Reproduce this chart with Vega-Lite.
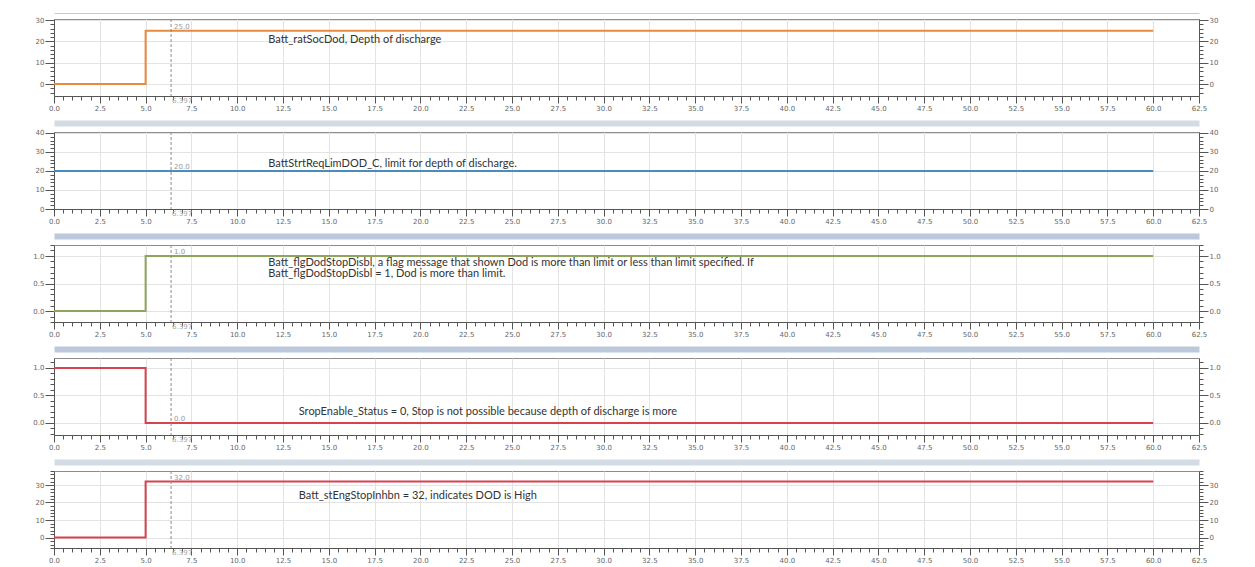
{
  "$schema": "https://vega.github.io/schema/vega-lite/v6.json",
  "background": "#ffffff",
  "padding": {"top": 12, "left": 5, "right": 5, "bottom": 5},
  "bounds": "flush",
  "spacing": 36,
  "config": {
    "view": {"stroke": "#8c8c8c", "strokeWidth": 1},
    "axis": {
      "labelFont": "DejaVu Sans",
      "labelFontSize": 7,
      "labelColor": "#666666",
      "domainColor": "#555555",
      "tickColor": "#555555",
      "gridColor": "#e3e3e3",
      "labelOverlap": false,
      "labelFlush": false,
      "labelBound": false
    },
    "text": {"font": "Lato", "fontSize": 11, "color": "#333333"}
  },
  "vconcat": [
    {
      "width": 1145,
      "height": 77,
      "resolve": {"axis": {"x": "independent", "y": "independent"}},
      "layer": [
        {
          "data": {"values": [{"t": 0, "v": 0}, {"t": 5, "v": 25}, {"t": 60, "v": 25}]},
          "mark": {"type": "line", "interpolate": "step-after", "strokeWidth": 2, "color": "#E88B3C"},
          "encoding": {
            "x": {"field": "t", "type": "quantitative", "title": null, "scale": {"domain": [0, 62.5], "nice": false, "zero": false},
              "axis": {"values": [0,0.5,1,1.5,2,2.5,3,3.5,4,4.5,5,5.5,6,6.5,7,7.5,8,8.5,9,9.5,10,10.5,11,11.5,12,12.5,13,13.5,14,14.5,15,15.5,16,16.5,17,17.5,18,18.5,19,19.5,20,20.5,21,21.5,22,22.5,23,23.5,24,24.5,25,25.5,26,26.5,27,27.5,28,28.5,29,29.5,30,30.5,31,31.5,32,32.5,33,33.5,34,34.5,35,35.5,36,36.5,37,37.5,38,38.5,39,39.5,40,40.5,41,41.5,42,42.5,43,43.5,44,44.5,45,45.5,46,46.5,47,47.5,48,48.5,49,49.5,50,50.5,51,51.5,52,52.5,53,53.5,54,54.5,55,55.5,56,56.5,57,57.5,58,58.5,59,59.5,60,60.5,61,61.5,62,62.5],
                "labelExpr": "datum.value % 2.5 === 0 ? format(datum.value, '.1f') : ''",
                "tickSize": {"condition": {"test": "datum.value % 2.5 === 0", "value": 7}, "value": 4},
                "gridOpacity": {"condition": {"test": "datum.value % 2.5 === 0", "value": 1}, "value": 0},
                "labelPadding": 1}},
            "y": {"field": "v", "type": "quantitative", "title": null, "scale": {"domain": [-5.6, 30.5], "nice": false, "zero": false},
              "axis": {"orient": "left", "values": [-4,-2,0,2,4,6,8,10,12,14,16,18,20,22,24,26,28,30],
                "labelExpr": "datum.value % 10 === 0 ? format(datum.value, 'd') : ''",
                "tickSize": {"condition": {"test": "datum.value % 10 === 0", "value": 9}, "value": 4},
                "gridOpacity": {"condition": {"test": "datum.value % 10 === 0", "value": 1}, "value": 0},
                "labelPadding": 1, "minExtent": 48, "maxExtent": 48}}
          }
        },
        {
          "data": {"values": [{"t": 6.39, "v": 25, "lab": "25.0"}]},
          "mark": {"type": "text", "align": "left", "baseline": "bottom", "dx": 3, "dy": -1, "font": "DejaVu Sans", "fontSize": 7, "color": "#999999"},
          "encoding": {
            "x": {"field": "t", "type": "quantitative", "axis": null},
            "y": {"field": "v", "type": "quantitative", "title": null,
              "axis": {"orient": "right", "grid": false, "values": [-4,-2,0,2,4,6,8,10,12,14,16,18,20,22,24,26,28,30],
                "labelExpr": "datum.value % 10 === 0 ? format(datum.value, 'd') : ''",
                "tickSize": {"condition": {"test": "datum.value % 10 === 0", "value": 9}, "value": 4},
                "labelPadding": 1}},
            "text": {"field": "lab"}
          }
        },
        {
          "data": {"values": [{"t": 6.39}]},
          "mark": {"type": "rule", "strokeDash": [3, 2], "color": "#8a8a8a", "strokeWidth": 1},
          "encoding": {"x": {"field": "t", "type": "quantitative", "title": null,
            "axis": {"orient": "top", "labels": false, "ticks": false, "grid": false, "domain": true, "domainColor": "#c9c9c9", "domainWidth": 1, "offset": 6}}}
        },
        {
          "data": {"values": [{"t": 6.39, "lab": "6.397"}]},
          "mark": {"type": "text", "align": "left", "baseline": "top", "dx": 1, "dy": 1, "font": "DejaVu Sans", "fontSize": 7, "color": "#aaaaaa"},
          "encoding": {"x": {"field": "t", "type": "quantitative", "axis": null}, "y": {"datum": -5.6, "type": "quantitative", "axis": null}, "text": {"field": "lab"}}
        },
        {
          "data": {"values": [{"t": 11.7, "v": 20.7, "lab": "Batt_ratSocDod, Depth of discharge"}]},
          "mark": {"type": "text", "align": "left", "baseline": "middle"},
          "encoding": {"x": {"field": "t", "type": "quantitative", "axis": null}, "y": {"field": "v", "type": "quantitative", "axis": null}, "text": {"field": "lab"}}
        }
      ]
    },
    {
      "width": 1145,
      "height": 77,
      "resolve": {"axis": {"x": "independent", "y": "independent"}},
      "layer": [
        {
          "data": {"values": [{"t": 0, "v": 20}, {"t": 60, "v": 20}]},
          "mark": {"type": "line", "interpolate": "step-after", "strokeWidth": 2, "color": "#4A8CC0"},
          "encoding": {
            "x": {"field": "t", "type": "quantitative", "title": null, "scale": {"domain": [0, 62.5], "nice": false, "zero": false},
              "axis": {"values": [0,0.5,1,1.5,2,2.5,3,3.5,4,4.5,5,5.5,6,6.5,7,7.5,8,8.5,9,9.5,10,10.5,11,11.5,12,12.5,13,13.5,14,14.5,15,15.5,16,16.5,17,17.5,18,18.5,19,19.5,20,20.5,21,21.5,22,22.5,23,23.5,24,24.5,25,25.5,26,26.5,27,27.5,28,28.5,29,29.5,30,30.5,31,31.5,32,32.5,33,33.5,34,34.5,35,35.5,36,36.5,37,37.5,38,38.5,39,39.5,40,40.5,41,41.5,42,42.5,43,43.5,44,44.5,45,45.5,46,46.5,47,47.5,48,48.5,49,49.5,50,50.5,51,51.5,52,52.5,53,53.5,54,54.5,55,55.5,56,56.5,57,57.5,58,58.5,59,59.5,60,60.5,61,61.5,62,62.5],
                "labelExpr": "datum.value % 2.5 === 0 ? format(datum.value, '.1f') : ''",
                "tickSize": {"condition": {"test": "datum.value % 2.5 === 0", "value": 7}, "value": 4},
                "gridOpacity": {"condition": {"test": "datum.value % 2.5 === 0", "value": 1}, "value": 0},
                "labelPadding": 1}},
            "y": {"field": "v", "type": "quantitative", "title": null, "scale": {"domain": [0, 40.5], "nice": false, "zero": false},
              "axis": {"orient": "left", "values": [0,2,4,6,8,10,12,14,16,18,20,22,24,26,28,30,32,34,36,38,40],
                "labelExpr": "datum.value % 10 === 0 ? format(datum.value, 'd') : ''",
                "tickSize": {"condition": {"test": "datum.value % 10 === 0", "value": 9}, "value": 4},
                "gridOpacity": {"condition": {"test": "datum.value % 10 === 0", "value": 1}, "value": 0},
                "labelPadding": 1, "minExtent": 48, "maxExtent": 48}}
          }
        },
        {
          "data": {"values": [{"t": 6.39, "v": 20, "lab": "20.0"}]},
          "mark": {"type": "text", "align": "left", "baseline": "bottom", "dx": 3, "dy": -1, "font": "DejaVu Sans", "fontSize": 7, "color": "#999999"},
          "encoding": {
            "x": {"field": "t", "type": "quantitative", "axis": null},
            "y": {"field": "v", "type": "quantitative", "title": null,
              "axis": {"orient": "right", "grid": false, "values": [0,2,4,6,8,10,12,14,16,18,20,22,24,26,28,30,32,34,36,38,40],
                "labelExpr": "datum.value % 10 === 0 ? format(datum.value, 'd') : ''",
                "tickSize": {"condition": {"test": "datum.value % 10 === 0", "value": 9}, "value": 4},
                "labelPadding": 1}},
            "text": {"field": "lab"}
          }
        },
        {
          "data": {"values": [{"t": 6.39}]},
          "mark": {"type": "rule", "strokeDash": [3, 2], "color": "#8a8a8a", "strokeWidth": 1},
          "encoding": {"x": {"field": "t", "type": "quantitative", "title": null,
            "axis": {"orient": "top", "labels": false, "ticks": false, "grid": false, "domain": true, "domainColor": "#d3dbe4", "domainWidth": 6, "offset": 9}}}
        },
        {
          "data": {"values": [{"t": 6.39, "lab": "6.397"}]},
          "mark": {"type": "text", "align": "left", "baseline": "top", "dx": 1, "dy": 1, "font": "DejaVu Sans", "fontSize": 7, "color": "#aaaaaa"},
          "encoding": {"x": {"field": "t", "type": "quantitative", "axis": null}, "y": {"datum": 0, "type": "quantitative", "axis": null}, "text": {"field": "lab"}}
        },
        {
          "data": {"values": [{"t": 11.7, "v": 23.5, "lab": "BattStrtReqLimDOD_C, limit for depth of discharge."}]},
          "mark": {"type": "text", "align": "left", "baseline": "middle"},
          "encoding": {"x": {"field": "t", "type": "quantitative", "axis": null}, "y": {"field": "v", "type": "quantitative", "axis": null}, "text": {"field": "lab"}}
        }
      ]
    },
    {
      "width": 1145,
      "height": 77,
      "resolve": {"axis": {"x": "independent", "y": "independent"}},
      "layer": [
        {
          "data": {"values": [{"t": 0, "v": 0}, {"t": 5, "v": 1}, {"t": 60, "v": 1}]},
          "mark": {"type": "line", "interpolate": "step-after", "strokeWidth": 2, "color": "#8FA55C"},
          "encoding": {
            "x": {"field": "t", "type": "quantitative", "title": null, "scale": {"domain": [0, 62.5], "nice": false, "zero": false},
              "axis": {"values": [0,0.5,1,1.5,2,2.5,3,3.5,4,4.5,5,5.5,6,6.5,7,7.5,8,8.5,9,9.5,10,10.5,11,11.5,12,12.5,13,13.5,14,14.5,15,15.5,16,16.5,17,17.5,18,18.5,19,19.5,20,20.5,21,21.5,22,22.5,23,23.5,24,24.5,25,25.5,26,26.5,27,27.5,28,28.5,29,29.5,30,30.5,31,31.5,32,32.5,33,33.5,34,34.5,35,35.5,36,36.5,37,37.5,38,38.5,39,39.5,40,40.5,41,41.5,42,42.5,43,43.5,44,44.5,45,45.5,46,46.5,47,47.5,48,48.5,49,49.5,50,50.5,51,51.5,52,52.5,53,53.5,54,54.5,55,55.5,56,56.5,57,57.5,58,58.5,59,59.5,60,60.5,61,61.5,62,62.5],
                "labelExpr": "datum.value % 2.5 === 0 ? format(datum.value, '.1f') : ''",
                "tickSize": {"condition": {"test": "datum.value % 2.5 === 0", "value": 7}, "value": 4},
                "gridOpacity": {"condition": {"test": "datum.value % 2.5 === 0", "value": 1}, "value": 0},
                "labelPadding": 1}},
            "y": {"field": "v", "type": "quantitative", "title": null, "scale": {"domain": [-0.2, 1.2], "nice": false, "zero": false},
              "axis": {"orient": "left", "values": [-0.2,-0.1,0,0.1,0.2,0.3,0.4,0.5,0.6,0.7,0.8,0.9,1,1.1,1.2],
                "labelExpr": "datum.value % 0.5 === 0 ? format(datum.value, '.1f') : ''",
                "tickSize": {"condition": {"test": "datum.value % 0.5 === 0", "value": 9}, "value": 4},
                "gridOpacity": {"condition": {"test": "datum.value % 0.5 === 0", "value": 1}, "value": 0},
                "labelPadding": 1, "minExtent": 48, "maxExtent": 48}}
          }
        },
        {
          "data": {"values": [{"t": 6.39, "v": 1, "lab": "1.0"}]},
          "mark": {"type": "text", "align": "left", "baseline": "bottom", "dx": 3, "dy": -1, "font": "DejaVu Sans", "fontSize": 7, "color": "#999999"},
          "encoding": {
            "x": {"field": "t", "type": "quantitative", "axis": null},
            "y": {"field": "v", "type": "quantitative", "title": null,
              "axis": {"orient": "right", "grid": false, "values": [-0.2,-0.1,0,0.1,0.2,0.3,0.4,0.5,0.6,0.7,0.8,0.9,1,1.1,1.2],
                "labelExpr": "datum.value % 0.5 === 0 ? format(datum.value, '.1f') : ''",
                "tickSize": {"condition": {"test": "datum.value % 0.5 === 0", "value": 9}, "value": 4},
                "labelPadding": 1}},
            "text": {"field": "lab"}
          }
        },
        {
          "data": {"values": [{"t": 6.39}]},
          "mark": {"type": "rule", "strokeDash": [3, 2], "color": "#8a8a8a", "strokeWidth": 1},
          "encoding": {"x": {"field": "t", "type": "quantitative", "title": null,
            "axis": {"orient": "top", "labels": false, "ticks": false, "grid": false, "domain": true, "domainColor": "#bcc8db", "domainWidth": 6, "offset": 9}}}
        },
        {
          "data": {"values": [{"t": 6.39, "lab": "6.397"}]},
          "mark": {"type": "text", "align": "left", "baseline": "top", "dx": 1, "dy": 1, "font": "DejaVu Sans", "fontSize": 7, "color": "#aaaaaa"},
          "encoding": {"x": {"field": "t", "type": "quantitative", "axis": null}, "y": {"datum": -0.2, "type": "quantitative", "axis": null}, "text": {"field": "lab"}}
        },
        {
          "data": {"values": [
            {"t": 11.7, "v": 0.87, "lab": "Batt_flgDodStopDisbl, a flag message that shown Dod is more than limit or less than limit specified. If"},
            {"t": 11.7, "v": 0.67, "lab": "Batt_flgDodStopDisbl = 1, Dod is more than limit."}
          ]},
          "mark": {"type": "text", "align": "left", "baseline": "middle"},
          "encoding": {"x": {"field": "t", "type": "quantitative", "axis": null}, "y": {"field": "v", "type": "quantitative", "axis": null}, "text": {"field": "lab"}}
        }
      ]
    },
    {
      "width": 1145,
      "height": 77,
      "resolve": {"axis": {"x": "independent", "y": "independent"}},
      "layer": [
        {
          "data": {"values": [{"t": 0, "v": 1}, {"t": 5, "v": 0}, {"t": 60, "v": 0}]},
          "mark": {"type": "line", "interpolate": "step-after", "strokeWidth": 2, "color": "#D6434F"},
          "encoding": {
            "x": {"field": "t", "type": "quantitative", "title": null, "scale": {"domain": [0, 62.5], "nice": false, "zero": false},
              "axis": {"values": [0,0.5,1,1.5,2,2.5,3,3.5,4,4.5,5,5.5,6,6.5,7,7.5,8,8.5,9,9.5,10,10.5,11,11.5,12,12.5,13,13.5,14,14.5,15,15.5,16,16.5,17,17.5,18,18.5,19,19.5,20,20.5,21,21.5,22,22.5,23,23.5,24,24.5,25,25.5,26,26.5,27,27.5,28,28.5,29,29.5,30,30.5,31,31.5,32,32.5,33,33.5,34,34.5,35,35.5,36,36.5,37,37.5,38,38.5,39,39.5,40,40.5,41,41.5,42,42.5,43,43.5,44,44.5,45,45.5,46,46.5,47,47.5,48,48.5,49,49.5,50,50.5,51,51.5,52,52.5,53,53.5,54,54.5,55,55.5,56,56.5,57,57.5,58,58.5,59,59.5,60,60.5,61,61.5,62,62.5],
                "labelExpr": "datum.value % 2.5 === 0 ? format(datum.value, '.1f') : ''",
                "tickSize": {"condition": {"test": "datum.value % 2.5 === 0", "value": 7}, "value": 4},
                "gridOpacity": {"condition": {"test": "datum.value % 2.5 === 0", "value": 1}, "value": 0},
                "labelPadding": 1}},
            "y": {"field": "v", "type": "quantitative", "title": null, "scale": {"domain": [-0.22, 1.18], "nice": false, "zero": false},
              "axis": {"orient": "left", "values": [-0.2,-0.1,0,0.1,0.2,0.3,0.4,0.5,0.6,0.7,0.8,0.9,1,1.1],
                "labelExpr": "datum.value % 0.5 === 0 ? format(datum.value, '.1f') : ''",
                "tickSize": {"condition": {"test": "datum.value % 0.5 === 0", "value": 9}, "value": 4},
                "gridOpacity": {"condition": {"test": "datum.value % 0.5 === 0", "value": 1}, "value": 0},
                "labelPadding": 1, "minExtent": 48, "maxExtent": 48}}
          }
        },
        {
          "data": {"values": [{"t": 6.39, "v": 0, "lab": "0.0"}]},
          "mark": {"type": "text", "align": "left", "baseline": "bottom", "dx": 3, "dy": -1, "font": "DejaVu Sans", "fontSize": 7, "color": "#999999"},
          "encoding": {
            "x": {"field": "t", "type": "quantitative", "axis": null},
            "y": {"field": "v", "type": "quantitative", "title": null,
              "axis": {"orient": "right", "grid": false, "values": [-0.2,-0.1,0,0.1,0.2,0.3,0.4,0.5,0.6,0.7,0.8,0.9,1,1.1],
                "labelExpr": "datum.value % 0.5 === 0 ? format(datum.value, '.1f') : ''",
                "tickSize": {"condition": {"test": "datum.value % 0.5 === 0", "value": 9}, "value": 4},
                "labelPadding": 1}},
            "text": {"field": "lab"}
          }
        },
        {
          "data": {"values": [{"t": 6.39}]},
          "mark": {"type": "rule", "strokeDash": [3, 2], "color": "#8a8a8a", "strokeWidth": 1},
          "encoding": {"x": {"field": "t", "type": "quantitative", "title": null,
            "axis": {"orient": "top", "labels": false, "ticks": false, "grid": false, "domain": true, "domainColor": "#bcc8db", "domainWidth": 6, "offset": 9}}}
        },
        {
          "data": {"values": [{"t": 6.39, "lab": "6.397"}]},
          "mark": {"type": "text", "align": "left", "baseline": "top", "dx": 1, "dy": 1, "font": "DejaVu Sans", "fontSize": 7, "color": "#aaaaaa"},
          "encoding": {"x": {"field": "t", "type": "quantitative", "axis": null}, "y": {"datum": -0.22, "type": "quantitative", "axis": null}, "text": {"field": "lab"}}
        },
        {
          "data": {"values": [{"t": 13.36, "v": 0.2, "lab": "SropEnable_Status = 0, Stop is not possible because depth of discharge is more"}]},
          "mark": {"type": "text", "align": "left", "baseline": "middle"},
          "encoding": {"x": {"field": "t", "type": "quantitative", "axis": null}, "y": {"field": "v", "type": "quantitative", "axis": null}, "text": {"field": "lab"}}
        }
      ]
    },
    {
      "width": 1145,
      "height": 77,
      "resolve": {"axis": {"x": "independent", "y": "independent"}},
      "layer": [
        {
          "data": {"values": [{"t": 0, "v": 0}, {"t": 5, "v": 32}, {"t": 60, "v": 32}]},
          "mark": {"type": "line", "interpolate": "step-after", "strokeWidth": 2, "color": "#D6434F"},
          "encoding": {
            "x": {"field": "t", "type": "quantitative", "title": null, "scale": {"domain": [0, 62.5], "nice": false, "zero": false},
              "axis": {"values": [0,0.5,1,1.5,2,2.5,3,3.5,4,4.5,5,5.5,6,6.5,7,7.5,8,8.5,9,9.5,10,10.5,11,11.5,12,12.5,13,13.5,14,14.5,15,15.5,16,16.5,17,17.5,18,18.5,19,19.5,20,20.5,21,21.5,22,22.5,23,23.5,24,24.5,25,25.5,26,26.5,27,27.5,28,28.5,29,29.5,30,30.5,31,31.5,32,32.5,33,33.5,34,34.5,35,35.5,36,36.5,37,37.5,38,38.5,39,39.5,40,40.5,41,41.5,42,42.5,43,43.5,44,44.5,45,45.5,46,46.5,47,47.5,48,48.5,49,49.5,50,50.5,51,51.5,52,52.5,53,53.5,54,54.5,55,55.5,56,56.5,57,57.5,58,58.5,59,59.5,60,60.5,61,61.5,62,62.5],
                "labelExpr": "datum.value % 2.5 === 0 ? format(datum.value, '.1f') : ''",
                "tickSize": {"condition": {"test": "datum.value % 2.5 === 0", "value": 7}, "value": 4},
                "gridOpacity": {"condition": {"test": "datum.value % 2.5 === 0", "value": 1}, "value": 0},
                "labelPadding": 1}},
            "y": {"field": "v", "type": "quantitative", "title": null, "scale": {"domain": [-6, 38], "nice": false, "zero": false},
              "axis": {"orient": "left", "values": [-6,-4,-2,0,2,4,6,8,10,12,14,16,18,20,22,24,26,28,30,32,34,36,38],
                "labelExpr": "datum.value % 10 === 0 ? format(datum.value, 'd') : ''",
                "tickSize": {"condition": {"test": "datum.value % 10 === 0", "value": 9}, "value": 4},
                "gridOpacity": {"condition": {"test": "datum.value % 10 === 0", "value": 1}, "value": 0},
                "labelPadding": 1, "minExtent": 48, "maxExtent": 48}}
          }
        },
        {
          "data": {"values": [{"t": 6.39, "v": 32, "lab": "32.0"}]},
          "mark": {"type": "text", "align": "left", "baseline": "bottom", "dx": 3, "dy": -1, "font": "DejaVu Sans", "fontSize": 7, "color": "#999999"},
          "encoding": {
            "x": {"field": "t", "type": "quantitative", "axis": null},
            "y": {"field": "v", "type": "quantitative", "title": null,
              "axis": {"orient": "right", "grid": false, "values": [-6,-4,-2,0,2,4,6,8,10,12,14,16,18,20,22,24,26,28,30,32,34,36,38],
                "labelExpr": "datum.value % 10 === 0 ? format(datum.value, 'd') : ''",
                "tickSize": {"condition": {"test": "datum.value % 10 === 0", "value": 9}, "value": 4},
                "labelPadding": 1}},
            "text": {"field": "lab"}
          }
        },
        {
          "data": {"values": [{"t": 6.39}]},
          "mark": {"type": "rule", "strokeDash": [3, 2], "color": "#8a8a8a", "strokeWidth": 1},
          "encoding": {"x": {"field": "t", "type": "quantitative", "title": null,
            "axis": {"orient": "top", "labels": false, "ticks": false, "grid": false, "domain": true, "domainColor": "#d3dbe4", "domainWidth": 6, "offset": 9}}}
        },
        {
          "data": {"values": [{"t": 6.39, "lab": "6.397"}]},
          "mark": {"type": "text", "align": "left", "baseline": "top", "dx": 1, "dy": 1, "font": "DejaVu Sans", "fontSize": 7, "color": "#aaaaaa"},
          "encoding": {"x": {"field": "t", "type": "quantitative", "axis": null}, "y": {"datum": -6, "type": "quantitative", "axis": null}, "text": {"field": "lab"}}
        },
        {
          "data": {"values": [{"t": 13.36, "v": 23.5, "lab": "Batt_stEngStopInhbn = 32, indicates DOD is High"}]},
          "mark": {"type": "text", "align": "left", "baseline": "middle"},
          "encoding": {"x": {"field": "t", "type": "quantitative", "axis": null}, "y": {"field": "v", "type": "quantitative", "axis": null}, "text": {"field": "lab"}}
        }
      ]
    }
  ]
}
